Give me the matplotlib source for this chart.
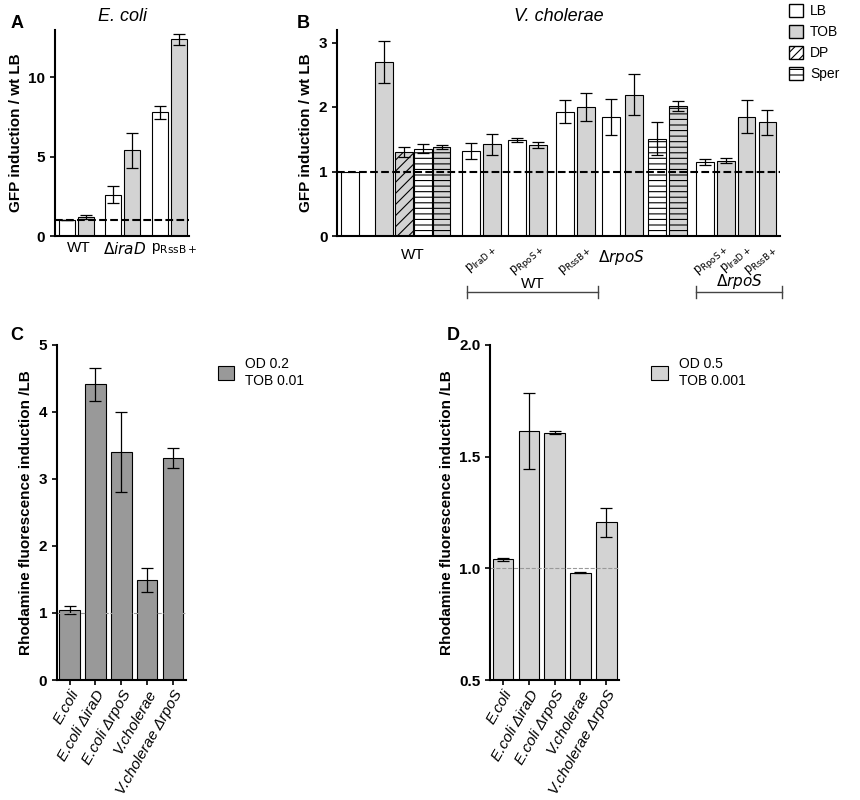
import matplotlib
matplotlib.use("Agg")
import matplotlib.pyplot as plt
from matplotlib.patches import Patch

plt.rcParams['font.family'] = ['Liberation Sans', 'DejaVu Sans']
plt.rcParams['hatch.linewidth'] = 0.8

# Panel A
a_groups = ["WT", "ΔiraD", "pRssB+"]
a_lb = [1.0, 2.6, 7.8]
a_lb_err = [0.0, 0.55, 0.4]
a_tob = [1.2, 5.4, 12.4]
a_tob_err = [0.12, 1.1, 0.35]

# Panel B (bar values, errors, styles)
b_vals = [1.0, 2.7, 1.3, 1.35, 1.38, 1.32, 1.42, 1.49, 1.41, 1.93, 2.0,
          1.84, 2.19, 1.51, 2.02, 1.15, 1.17, 1.85, 1.76]
b_err = [0.0, 0.33, 0.08, 0.07, 0.03, 0.12, 0.16, 0.03, 0.04, 0.18, 0.22,
         0.28, 0.32, 0.26, 0.08, 0.05, 0.04, 0.26, 0.19]
b_kind = ["LB", "TOB", "DP", "Sper", "SperG", "LB", "TOB", "LB", "TOB", "LB", "TOB",
          "LB", "TOB", "Sper", "SperG", "LB", "TOB", "TOB", "TOB"]

# Panel C / D
cd_labels = ["E.coli", "E.coli ΔiraD", "E.coli ΔrpoS", "V.cholerae", "V.cholerae ΔrpoS"]
c_vals = [1.05, 4.41, 3.4, 1.49, 3.31]
c_err = [0.06, 0.25, 0.6, 0.18, 0.15]
d_vals = [1.04, 1.615, 1.607, 0.98, 1.205]
d_err = [0.006, 0.17, 0.006, 0.003, 0.065]

fig = plt.figure(figsize=(8.6, 8.0), dpi=100)

def style(ax):
    for s in ["top", "right"]:
        ax.spines[s].set_visible(False)
    ax.spines["left"].set_linewidth(1.5)
    ax.spines["bottom"].set_linewidth(1.5)
    ax.tick_params(labelsize=11, width=1.2)
    for t in ax.get_yticklabels():
        t.set_fontweight("bold")

ek = dict(ecolor="black", capsize=4, elinewidth=0.9, capthick=0.9)

# ---- A
axA = fig.add_axes([0.064, 0.705, 0.156, 0.258])
xa = [0, 1.6, 3.2]
w = 0.55
axA.bar([x for x in xa], a_lb, w, yerr=a_lb_err, color="white", edgecolor="black", lw=0.8, error_kw=ek)
axA.bar([x + 0.65 for x in xa], a_tob, w, yerr=a_tob_err, color="#d3d3d3", edgecolor="black", lw=0.8, error_kw=ek)
axA.axhline(1, color="black", ls="--", lw=1.5)
axA.set_ylim(0, 13)
axA.set_xlim(-0.4, 4.2)
axA.set_yticks([0, 5, 10])
axA.set_xticks([0.4, 2.0, 3.7])
axA.set_xticklabels(["WT", "$\\it{ΔiraD}$", "p$_{\\rm RssB+}$"], fontsize=11)
axA.tick_params(axis="x", length=0)
axA.set_ylabel("GFP induction / wt LB", fontsize=11, fontweight="bold")
style(axA)
axA.set_title("E. coli", style="italic", fontsize=13)
fig.text(0.012, 0.965, "A", fontsize=13, fontweight="bold")

# ---- B
axB = fig.add_axes([0.392, 0.705, 0.515, 0.258])
xb = [0, 1.65, 2.6, 3.5, 4.4, 5.8, 6.8, 8.0, 9.0, 10.3, 11.3, 12.5, 13.6, 14.7, 15.7,
      17.0, 18.0, 19.0, 20.0]
styles = {"LB": dict(color="white"), "TOB": dict(color="#d3d3d3"),
          "DP": dict(color="#d3d3d3", hatch="///"), "Sper": dict(color="white", hatch="---"),
          "SperG": dict(color="#d3d3d3", hatch="---")}
for x, v, e, k in zip(xb, b_vals, b_err, b_kind):
    axB.bar(x, v, 0.85, yerr=e if e > 0 else None, edgecolor="black", lw=0.8,
            error_kw=ek, **styles[k])
axB.axhline(1, color="black", ls="--", lw=1.5)
axB.set_ylim(0, 3.2)
axB.set_xlim(-0.6, 20.6)
axB.set_yticks([0, 1, 2, 3])
axB.set_xticks([])
axB.set_ylabel("GFP induction / wt LB", fontsize=11, fontweight="bold")
style(axB)
axB.set_title("V. cholerae", style="italic", fontsize=13)
fig.text(0.345, 0.965, "B", fontsize=13, fontweight="bold")
tr = axB.get_xaxis_transform()
axB.text(3.0, -0.06, "WT", transform=tr, ha="center", va="top", fontsize=11)
axB.text(13.0, -0.06, "$\\it{ΔrpoS}$", transform=tr, ha="center", va="top", fontsize=11)
for x, lab in [(6.3, "IraD+"), (8.5, "RpoS+"), (10.8, "RssB+"), (17.3, "RpoS+"), (18.5, "IraD+"), (19.7, "RssB+")]:
    axB.text(x, -0.03, "p$_{\\rm " + lab + "}$", transform=tr, ha="center", va="top",
             fontsize=9, rotation=40)
for x0, x1, lab in [(5.6, 11.9, "WT"), (16.6, 20.7, "$\\it{ΔrpoS}$")]:
    axB.plot([x0, x1], [-0.27, -0.27], transform=tr, color="#444", lw=1, clip_on=False)
    for xx in (x0, x1):
        axB.plot([xx, xx], [-0.24, -0.30], transform=tr, color="#444", lw=1, clip_on=False)
    axB.text((x0 + x1) / 2, -0.265, lab, transform=tr, ha="center", va="bottom", fontsize=11)
handles = [Patch(facecolor="white", edgecolor="black", label="LB"),
           Patch(facecolor="#d3d3d3", edgecolor="black", label="TOB"),
           Patch(facecolor="white", edgecolor="black", hatch="////", label="DP"),
           Patch(facecolor="white", edgecolor="black", hatch="---", label="Sper")]
fig.legend(handles=handles, loc="upper left", bbox_to_anchor=(0.908, 1.005), frameon=False,
           fontsize=10, handlelength=1.0, handleheight=1.0, handletextpad=0.5,
           borderaxespad=0.2)

# ---- C
def cd(ax, vals, errs, color, ylim, yticks, yticklabels, lab):
    x = range(len(vals))
    ax.bar(x, vals, 0.8, yerr=errs, color=color, edgecolor="black", lw=0.8, error_kw=ek,
           label=lab)
    ax.axhline(1, color="#999999", ls="--", lw=0.8)
    ax.set_ylim(*ylim)
    ax.set_xlim(-0.5, len(vals) - 0.5)
    ax.set_yticks(yticks)
    ax.set_yticklabels(yticklabels)
    ax.set_xticks(list(x))
    ax.set_xticklabels(cd_labels, rotation=60, ha="right", rotation_mode="anchor",
                       style="italic", fontsize=8.5)
    ax.tick_params(axis="x", pad=2)
    ax.set_ylabel("Rhodamine fluorescence induction /LB", fontsize=11, fontweight="bold")
    style(ax)
    ax.legend(loc="upper left", bbox_to_anchor=(1.15, 1.0), frameon=False, fontsize=10,
              handlelength=1.2, handleheight=1.2)

axC = fig.add_axes([0.066, 0.15, 0.15, 0.419])
cd(axC, c_vals, c_err, "#999999", (0, 5), [0, 1, 2, 3, 4, 5], ["0", "1", "2", "3", "4", "5"],
   "OD 0.2\nTOB 0.01")
fig.text(0.012, 0.575, "C", fontsize=13, fontweight="bold")

axD = fig.add_axes([0.57, 0.15, 0.15, 0.419])
cd(axD, d_vals, d_err, "#d3d3d3", (0.5, 2.0), [0.5, 1.0, 1.5, 2.0], ["0.5", "1.0", "1.5", "2.0"],
   "OD 0.5\nTOB 0.001")
fig.text(0.52, 0.575, "D", fontsize=13, fontweight="bold")

fig.savefig("out.png", dpi=100)
